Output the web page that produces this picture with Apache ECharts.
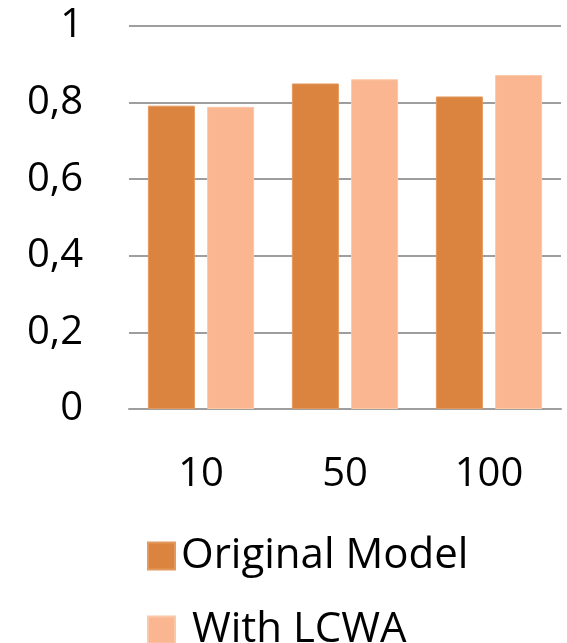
<!DOCTYPE html>
<html>
<head>
<meta charset="utf-8">
<style>html,body{margin:0;padding:0;background:#fff}#c{width:567px;height:643px}</style>
<script src="https://cdn.jsdelivr.net/npm/echarts@6/dist/echarts.min.js"></script>
</head>
<body>
<div id="c"></div>
<script>
const categories = ['10', '50', '100'];
const originalModel = [0.792, 0.850, 0.816];
const withLCWA = [0.789, 0.861, 0.872];
const yTicks = [0, 0.2, 0.4, 0.6, 0.8, 1];
const seriesNames = ['Original Model', 'With LCWA'];

const FONT = '"Open Sans", Lato, sans-serif';
const FS = 40;
const legendBase = {
  orient: 'vertical',
  left: 142,
  itemWidth: 27,
  itemHeight: 27,
  icon: 'rect',
  textStyle: {fontSize: 42, fontFamily: FONT, color: '#000', lineHeight: 42, padding: [0, 0, 0, 1]},
  formatter: function (n) { return n === seriesNames[1] ? ' ' + n : n; }
};
const chart = echarts.init(document.getElementById('c'), null, {renderer: 'canvas'});
chart.setOption({
  animation: false,
  backgroundColor: '#fff',
  grid: {left: 129, right: 6, top: 26, bottom: 234, containLabel: false},
  legend: [
    Object.assign({}, legendBase, {top: 530, data: [seriesNames[0]]}),
    Object.assign({}, legendBase, {top: 604, data: [seriesNames[1]]})
  ],
  xAxis: {
    type: 'category',
    data: categories,
    axisLine: {lineStyle: {color: '#9e9e9e', width: 2}},
    axisTick: {show: false},
    axisLabel: {fontSize: FS, fontFamily: FONT, color: '#000', margin: 46}
  },
  yAxis: {
    type: 'value',
    min: yTicks[0],
    max: yTicks[yTicks.length - 1],
    interval: 0.2,
    axisLine: {show: false},
    axisTick: {show: false},
    splitLine: {lineStyle: {color: '#9e9e9e', width: 2}},
    axisLabel: {
      fontSize: FS, fontFamily: FONT, color: '#000', margin: 46,
      formatter: function (v) { return String(Math.round(v * 10) / 10).replace('.', ','); }
    }
  },
  series: [
    {
      name: seriesNames[0], type: 'bar', data: originalModel,
      barWidth: 47, barGap: '26%',
      itemStyle: {color: '#DA843F', borderColor: '#E49A5E', borderWidth: 1}
    },
    {
      name: seriesNames[1], type: 'bar', data: withLCWA,
      barWidth: 47, barGap: '26%',
      itemStyle: {color: '#F9B690', borderColor: '#FBC8A8', borderWidth: 1}
    }
  ]
});
</script>
</body>
</html>
